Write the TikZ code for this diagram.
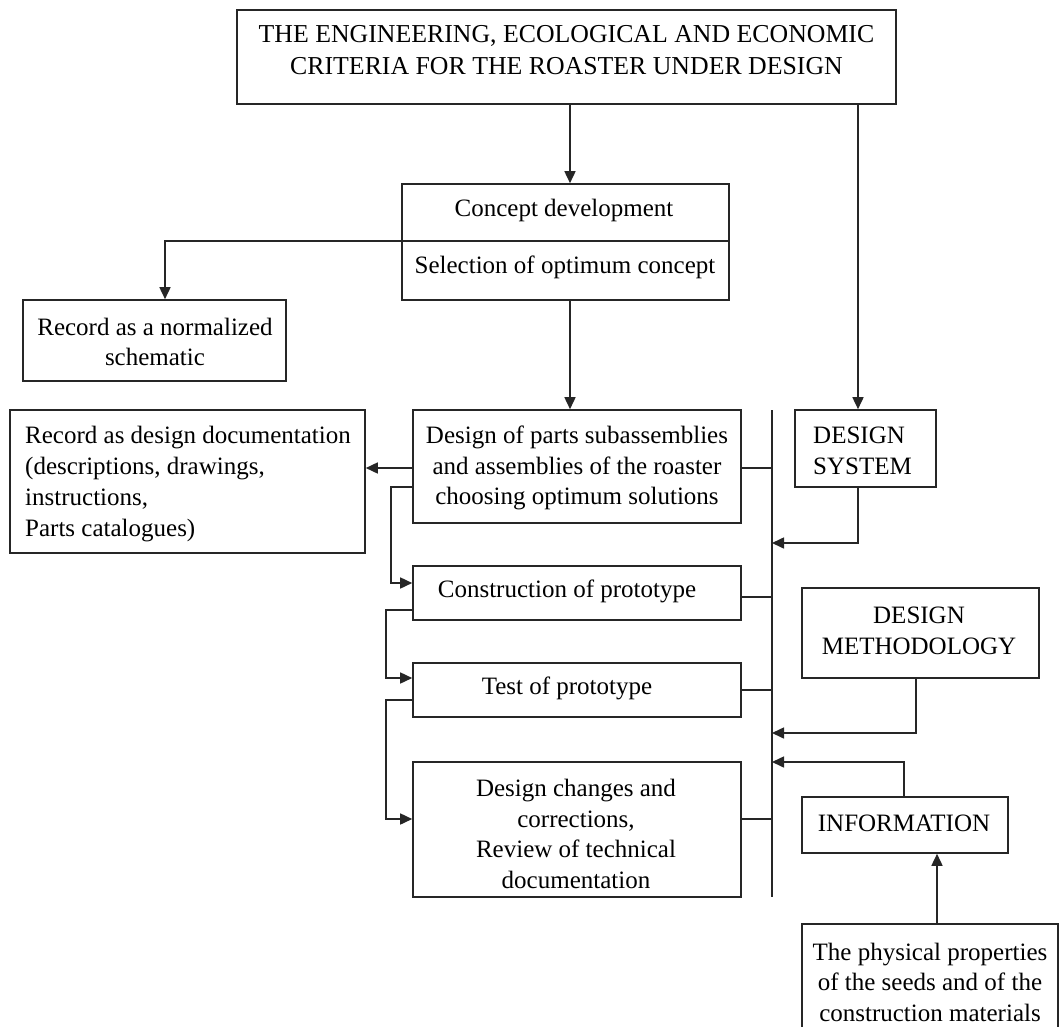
\documentclass[tikz,border=0pt]{standalone}
\usepackage{fontspec}
\setmainfont{Liberation Serif}
\usetikzlibrary{arrows.meta}
\begin{document}
\begin{tikzpicture}[x=1pt,y=-1pt,
  box/.style={draw=black!85, line width=1.6pt, rectangle, inner sep=0pt},
  txt/.style={inner sep=0pt, font=\fontsize{25}{30.5}\selectfont, align=center},
  ltxt/.style={inner sep=0pt, font=\fontsize{25}{31}\selectfont, align=left, anchor=west},
  conn/.style={draw=black!85, line width=1.6pt},
  arr/.style={conn, -{Triangle[length=12pt,width=11pt]}},
]
\useasboundingbox (0,0) rectangle (1062,1027);

% boxes
\node[box, minimum width=659pt, minimum height=94pt] (top) at (566.5,57) {};
\node[txt, font=\fontsize{25.8}{32}\selectfont] (topt) at (566.5,50) {THE ENGINEERING, ECOLOGICAL AND ECONOMIC\\CRITERIA FOR THE ROASTER UNDER DESIGN};

\node[box, minimum width=327pt, minimum height=116pt] (cp) at (565.5,242) {};
\node[txt, anchor=base] (cpt1) at (564,216) {Concept development};
\node[txt, anchor=base] (cpt2) at (565,273) {Selection of optimum concept};

\node[box, minimum width=263pt, minimum height=81pt] (rn) at (154.5,340.5) {};
\node[txt] (rnt) at (155,342) {Record as a normalized\\schematic};

\node[box, minimum width=328pt, minimum height=113pt] (dp) at (577,466.5) {};
\node[txt] (dpt) at (577,468) {Design of parts subassemblies\\and assemblies of the roaster\\choosing optimum solutions};

\node[box, minimum width=355pt, minimum height=143pt] (dd) at (187.5,481.5) {};
\node[ltxt] (ddt) at (25,484) {Record as design documentation\\(descriptions, drawings,\\instructions,\\Parts catalogues)};

\node[box, minimum width=141pt, minimum height=77pt] (ds) at (865.5,448.5) {};
\node[ltxt] (dst) at (813,451) {DESIGN\\SYSTEM};

\node[box, minimum width=328pt, minimum height=54pt] (cons) at (577,593) {};
\node[txt] (const) at (567,591) {Construction of prototype};

\node[box, minimum width=328pt, minimum height=54pt] (test) at (577,690) {};
\node[txt] (testt) at (567,688) {Test of prototype};

\node[box, minimum width=328pt, minimum height=135pt] (dc) at (577,829.5) {};
\node[txt] (dct) at (576,834) {Design changes and\\corrections,\\Review of technical\\documentation};

\node[box, minimum width=237pt, minimum height=90pt] (dm) at (920.5,633) {};
\node[txt] (dmt) at (919,631) {DESIGN\\METHODOLOGY};

\node[box, minimum width=206pt, minimum height=56pt] (info) at (905,825) {};
\node[txt] (infot) at (904,823) {INFORMATION};

\node[box, minimum width=256pt, minimum height=116pt] (pp) at (930,982) {};
\node[txt] (ppt) at (930,982) {The physical properties\\of the seeds and of the\\construction materials};

% helper coordinates
\coordinate (xA) at (570,0);
\coordinate (xB) at (858,0);
\coordinate (xL) at (165,0);
\coordinate (bt) at (772,410);
\coordinate (bb) at (772,897);
\coordinate (p1) at (413,487);
\coordinate (p2) at (391,487);
\coordinate (p3) at (391,583);
\coordinate (q1) at (413,610);
\coordinate (q2) at (386,610);
\coordinate (q3) at (386,678);
\coordinate (s1) at (413,700);
\coordinate (s2) at (386,700);
\coordinate (s3) at (386,819);
\coordinate (r1) at (741,597);
\coordinate (r2) at (741,819);
\coordinate (d1) at (858,543);
\coordinate (m1) at (916,733);
\coordinate (n1) at (904,762);
\coordinate (xI) at (937,0);

% connectors
\draw[arr] (top.south -| xA) -- (cp.north -| xA);
\draw[arr] (top.south -| xB) -- (ds.north -| xB);
\draw[conn] (cp.west |- 0,241) -- (cp.east |- 0,241);
\draw[arr] (cp.west |- 0,241) -| (rn.north -| xL);
\draw[arr] (cp.south -| xA) -- (dp.north -| xA);

\draw[conn] (bt) -- (bb);
\draw[conn] (dp.east |- 0,468) -- (bt |- 0,468);
\draw[conn] (r1) -- (bt |- r1);
\draw[conn] (test.east) -- (test.east -| bt);
\draw[conn] (r2) -- (bt |- r2);

\draw[arr] (dp.west |- 0,468) -- (dd.east |- 0,468);
\draw[arr] (p1) -- (p2) -- (p3) -- (cons.west |- p3);
\draw[arr] (q1) -- (q2) -- (q3) -- (test.west |- q3);
\draw[arr] (s1) -- (s2) -- (s3) -- (dc.west |- s3);

\draw[arr] (ds.south -| xB) -- (d1) -- (bt |- d1);
\draw[arr] (dm.south -| m1) -- (m1) -- (bt |- m1);
\draw[arr] (info.north -| n1) -- (n1) -- (bt |- n1);
\draw[arr] (pp.north -| xI) -- (info.south -| xI);
\end{tikzpicture}
\end{document}
